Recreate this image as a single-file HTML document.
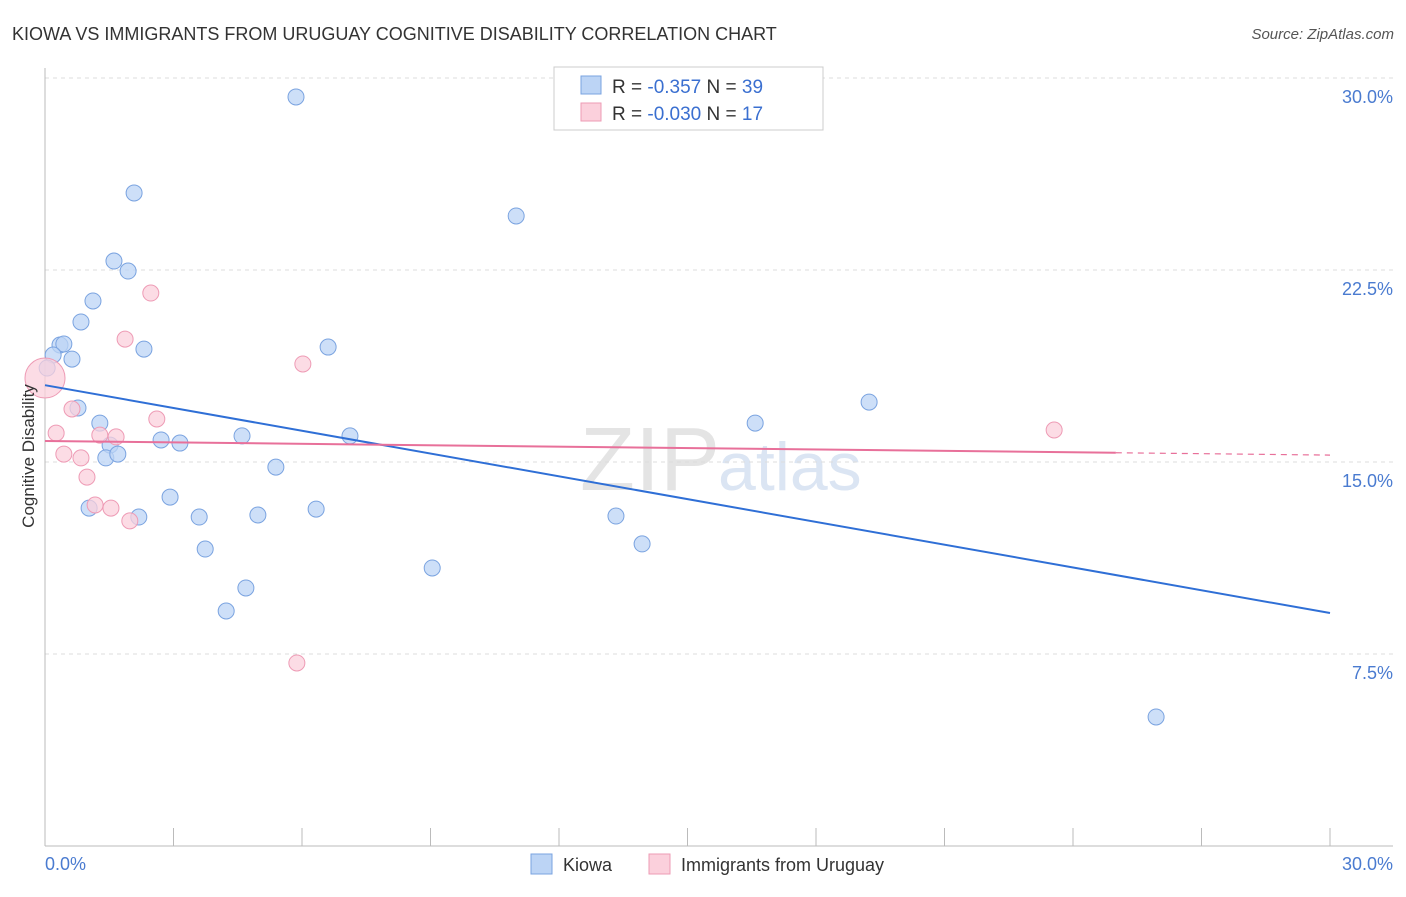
<!DOCTYPE html>
<html><head><meta charset="utf-8"><style>
body{margin:0;background:#fff;font-family:"Liberation Sans",sans-serif}
svg text{font-family:"Liberation Sans",sans-serif}
</style></head><body>
<svg id="c" width="1406" height="892" xmlns="http://www.w3.org/2000/svg">
<text x="12" y="40" font-size="18" fill="#333">KIOWA VS IMMIGRANTS FROM URUGUAY COGNITIVE DISABILITY CORRELATION CHART</text>
<text x="1394" y="39" font-size="15" fill="#555" text-anchor="end" font-style="italic">Source: ZipAtlas.com</text>
<text x="720" y="490" font-size="90" fill="#e4e4e4" text-anchor="end" font-family="Liberation Serif">ZIP</text>
<text x="718" y="490" font-size="68" fill="#dbe5f3">atlas</text>
<g id="grid"></g>
<g id="axes"></g>
<g id="pts"></g>
<g id="trend"></g>
<text transform="translate(34,456) rotate(-90)" font-size="17" fill="#333" text-anchor="middle">Cognitive Disability</text>
<text x="45" y="870" font-size="18" fill="#4a7bd0">0.0%</text>
<text x="1393" y="870" font-size="18" fill="#4a7bd0" text-anchor="end">30.0%</text>
<g>
<rect x="554" y="67" width="269" height="63" fill="#fff" stroke="#ccc"/>
<rect x="581" y="76" width="20" height="18" fill="#bcd4f5" stroke="#7aa3e0"/>
<rect x="581" y="103" width="20" height="18" fill="#fbd0dc" stroke="#ee9bb5"/>
<text x="612" y="93" font-size="19" fill="#333">R = <tspan fill="#3a6fd0">-0.357</tspan>   N = <tspan fill="#3a6fd0">39</tspan></text>
<text x="612" y="120" font-size="19" fill="#333">R = <tspan fill="#3a6fd0">-0.030</tspan>   N =  <tspan fill="#3a6fd0">17</tspan></text>
</g>
<g><rect x="531" y="854" width="21" height="20" fill="#bcd4f5" stroke="#7aa3e0"/><text x="563" y="871" font-size="18" fill="#333">Kiowa</text></g>
<g><rect x="649" y="854" width="21" height="20" fill="#fbd0dc" stroke="#ee9bb5"/><text x="681" y="871" font-size="18" fill="#333">Immigrants from Uruguay</text></g>
</svg>
<script>
const yTicks=[7.5,15,22.5,30];
const yTickLabels=["7.5%","15.0%","22.5%","30.0%"];
const kiowaX=[5.86,2.08,11.0,1.61,1.94,1.12,0.84,0.35,0.44,0.19,0.63,0.05,2.31,6.61,0.77,1.28,1.52,1.42,1.70,2.71,3.15,4.60,7.12,5.39,2.92,1.03,2.19,3.60,4.97,6.33,3.74,4.69,4.23,9.04,13.33,13.94,16.58,19.24,25.94];
const kiowaY=[29.26,25.51,24.61,22.85,22.46,21.29,20.47,19.57,19.61,19.18,19.02,18.67,19.41,19.49,17.11,16.52,15.66,15.16,15.31,15.86,15.74,16.02,16.02,14.80,13.63,13.20,12.85,12.85,12.93,13.16,11.60,10.08,9.18,10.86,12.89,11.80,16.52,17.34,5.04];
const uruX=[0.0,0.26,0.44,0.63,0.84,0.98,1.28,1.66,1.17,1.54,1.98,1.87,2.47,2.61,6.02,5.88,23.56];
const uruY=[18.28,16.13,15.31,17.07,15.16,14.41,16.05,15.98,13.32,13.20,12.70,19.80,21.60,16.68,18.83,7.15,16.25];
const kiowaTrend=[18.0,9.1];
const uruTrend=[15.82,15.27];
const X=v=>45+v*(1285/30), Y=v=>846-v*(768/30);
const NS="http://www.w3.org/2000/svg";
function mk(p,t,a){const e=document.createElementNS(NS,t);for(const k in a)e.setAttribute(k,a[k]);p.appendChild(e);return e;}
const g=document.getElementById('grid');
yTicks.forEach((t,i)=>{
 const l=mk(g,'line',{x1:45,x2:1393,y1:Y(t),y2:Y(t),stroke:'#ddd','stroke-dasharray':'4,4'});
 
 
 const tx=mk(g,'text',{x:1393,y:Y(t)+25,'font-size':18,fill:'#4a7bd0','text-anchor':'end'});
 tx.textContent=yTickLabels[i];
 
 
});
const ax=document.getElementById('axes');
const xa=mk(ax,'line',{x1:45,x2:1393,y1:846,y2:846,stroke:'#bbb'});


const ya=mk(ax,'line',{x1:45,x2:45,y1:68,y2:846,stroke:'#bbb'});


for(let i=1;i<=10;i++){const t=mk(ax,'line',{x1:X(i*3),x2:X(i*3),y1:828,y2:846,stroke:'#bbb'});
 
 }
const P=document.getElementById('pts');
kiowaX.forEach((x,i)=>{const c=mk(P,'circle',{cx:X(x),cy:Y(kiowaY[i]),r:8,fill:'#bcd4f5','fill-opacity':0.75,stroke:'#7aa3e0'});
 
 });
uruX.forEach((x,i)=>{const c=mk(P,'circle',{cx:X(x),cy:Y(uruY[i]),r:i==0?20:8,fill:'#fbd0dc','fill-opacity':0.75,stroke:'#ee9bb5'});
 
 });
const T=document.getElementById('trend');
const kl=mk(T,'line',{x1:X(0),y1:Y(kiowaTrend[0]),x2:X(30),y2:Y(kiowaTrend[1]),stroke:'#2f6fd6','stroke-width':2});


const uy=x=>uruTrend[0]+(uruTrend[1]-uruTrend[0])*x/30;
const ul=mk(T,'line',{x1:X(0),y1:Y(uy(0)),x2:X(25),y2:Y(uy(25)),stroke:'#e8709a','stroke-width':2});


const ud=mk(T,'line',{x1:X(25),y1:Y(uy(25)),x2:X(30),y2:Y(uy(30)),stroke:'#e8709a','stroke-width':1.2,'stroke-dasharray':'6,5'});


</script>
</body></html>
